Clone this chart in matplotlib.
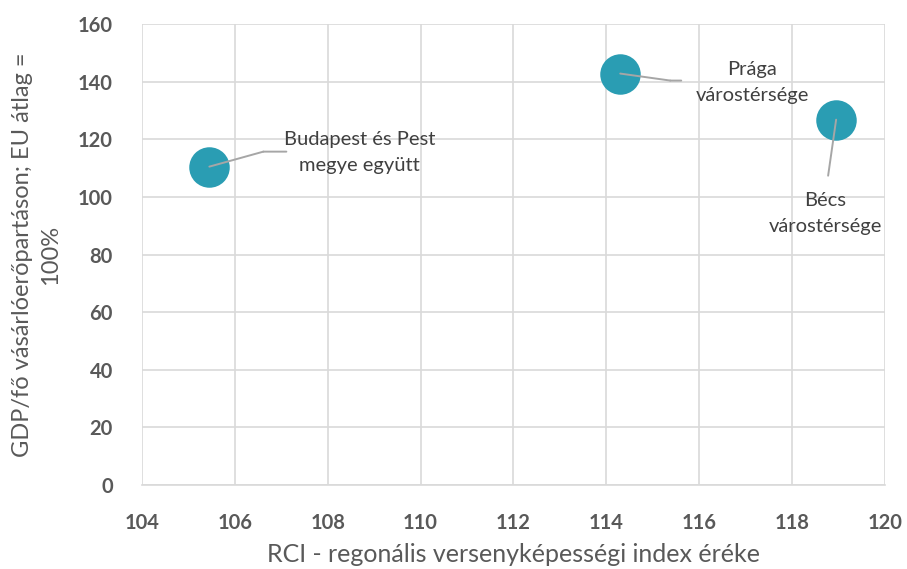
import matplotlib
matplotlib.use("Agg")
import matplotlib.pyplot as plt
import matplotlib.transforms as mtransforms
from matplotlib.patches import ConnectionPatch

names = ["Budapest és Pest\nmegye együtt", "Prága\nvárostérsége", "Bécs\nvárostérsége"]
rci = [105.45, 114.3, 118.95]
gdp = [110.5, 142.8, 126.8]

# label layout (pixel offsets from the point): leader elbow, leader end, text centre
elbow = [(54, 15), (50, -7), (-8, -56)]
lend = [(77, 15), (61, -7), (-8, -56)]
txt = [(150, 14), (132, -9), (-11, -94)]

plt.rcParams['font.family'] = ['Lato', 'DejaVu Sans']
fig = plt.figure(figsize=(9.07, 5.69), dpi=100)
ax = fig.add_axes([0.1566, 0.1476, 0.819, 0.8102])

grid_c = '#d9d9d9'
txt_c = '#595959'
ax.set_xlim(104, 120)
ax.set_ylim(0, 160)
ax.set_xticks(range(104, 121, 2))
ax.set_yticks(range(0, 161, 20))
ax.grid(True, color=grid_c, linewidth=1.2, zorder=0)
for s in ['top', 'right', 'left']:
    ax.spines[s].set_visible(False)
ax.spines['bottom'].set_color(grid_c)
ax.spines['bottom'].set_linewidth(1.2)
ax.tick_params(axis='x', length=0, pad=20, labelsize=14.5, labelcolor=txt_c)
ax.tick_params(axis='y', length=0, pad=21, labelsize=14.5, labelcolor=txt_c)
for lab in ax.get_xticklabels() + ax.get_yticklabels():
    lab.set_fontweight('bold')

ax.scatter(rci, gdp, s=850, color='#2A9DB3', zorder=3, linewidths=0)

k = 0.72
for i in range(len(names)):
    p = (rci[i], gdp[i])
    base = ax.transData
    o1 = mtransforms.offset_copy(base, fig=fig, x=elbow[i][0]*k, y=elbow[i][1]*k, units='points')
    o2 = mtransforms.offset_copy(base, fig=fig, x=lend[i][0]*k, y=lend[i][1]*k, units='points')
    for a, b in [(base, o1), (o1, o2)]:
        cp = ConnectionPatch(p, p, coordsA=a, coordsB=b, color='#a6a6a6', lw=1.4, zorder=4)
        ax.add_artist(cp)
    ax.annotate(names[i], xy=p, xytext=(txt[i][0]*k, txt[i][1]*k), textcoords='offset points',
                ha='center', va='center', fontsize=14.5, color='#404040', linespacing=1.6, zorder=5)

ax.set_xlabel('RCI - regonális versenyképességi index éréke', fontsize=18, color=txt_c)
ax.xaxis.set_label_coords(0.5, -0.125)
ax.set_ylabel('GDP/fő vásárlóerőpartáson; EU átlag =\n100%', fontsize=17, color=txt_c, labelpad=12,
              linespacing=1.45)

fig.savefig('out.png', dpi=100)
